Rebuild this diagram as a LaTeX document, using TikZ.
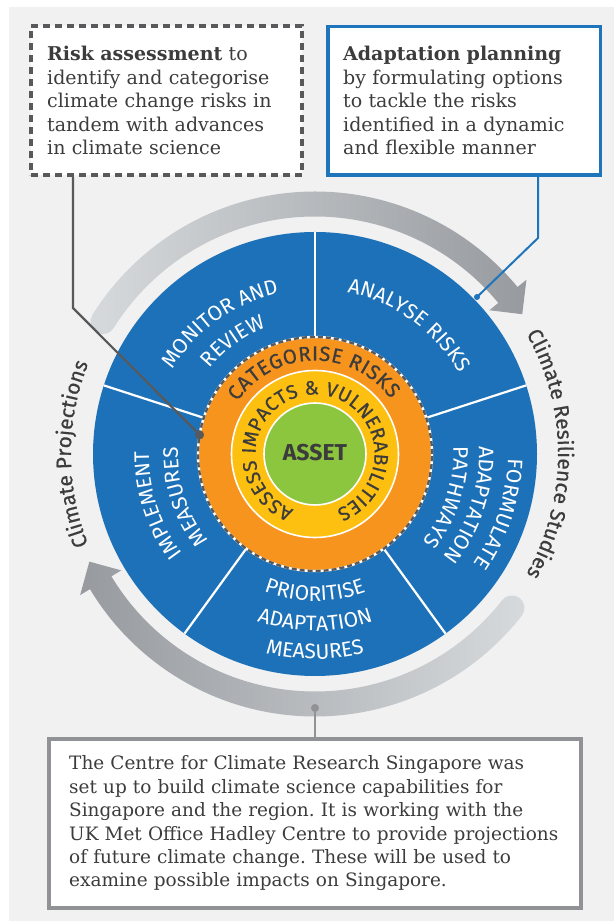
\documentclass[tikz,border=0pt]{standalone}
\usepackage{fontspec}
\setmainfont{DejaVu Serif}
\newfontfamily\segfam{Fira Sans}
\newfontfamily\medfam{Fira Sans}[FakeBold=0.6]
\usetikzlibrary{decorations.text}
\definecolor{bgc}{HTML}{F1F1F1}
\definecolor{cblue}{HTML}{1D71B8}
\definecolor{bboxblue}{HTML}{1F75BC}
\definecolor{corange}{HTML}{F7941D}
\definecolor{cyellow}{HTML}{FDC010}
\definecolor{cgreen}{HTML}{8CC63F}
\definecolor{cdark}{HTML}{3C3C3C}
\definecolor{cline}{HTML}{58595B}
\definecolor{cboxg}{HTML}{909296}
\definecolor{arrl}{HTML}{D6DADD}
\definecolor{arrd}{HTML}{979B9F}
% clockwise arc text (tops outward): radius, centre angle, colour, format, text
\newcommand\cwtext[5]{\path[decorate,decoration={text along path,text align=center,text color=#3,text={|#4|#5}}] (#2+80:#1) arc[start angle=#2+80,end angle=#2-80,radius=#1];}
% counter-clockwise arc text (tops inward)
\newcommand\ccwtext[5]{\path[decorate,decoration={text along path,text align=center,text color=#3,text={|#4|#5}}] (#2-80:#1) arc[start angle=#2-80,end angle=#2+80,radius=#1];}
\newcommand\segf{\segfam\fontsize{21}{21}\selectfont}
\newcommand\ringf{\medfam\fontsize{19.5}{19.5}\selectfont}
\newcommand\ringbigf{\medfam\fontsize{20.5}{20.5}\selectfont}
\newcommand\outf{\medfam\fontsize{21}{21}\selectfont}
\frenchspacing
\begin{document}
\begin{tikzpicture}[x=1pt,y=1pt,
  boxtxt/.style={anchor=base west,inner sep=0pt,align=left,text width=520pt,
    font=\fontsize{19}{23.4}\selectfont,text=cdark},
  boxframe/.style={rectangle,inner sep=0pt,fill=white},
  divider/.style={white,line width=2.2pt},
  dotmark/.style={circle,inner sep=0pt}]
\useasboundingbox (0,0) rectangle (614,921);
\fill[white] (0,0) rectangle (614,921);
\fill[bgc] (9,0) rectangle (614,914);

\begin{scope}[shift={(315,467)}]
  % grey arrows
  \shade[left color=arrl,right color=arrd]
    (148:262.5) arc[start angle=148,end angle=39.5,radius=262.5]
    -- (39.5:237.5) arc[start angle=39.5,end angle=148,radius=237.5]
    arc[start angle=328,end angle=148,radius=12.5] -- cycle
    (39.5:226) -- (34:250) -- (39.5:274) -- cycle;
  \shade[left color=arrd,right color=arrl]
    (-38:262.5) arc[start angle=-38,end angle=-149,radius=262.5]
    -- (-149:237.5) arc[start angle=-149,end angle=-38,radius=237.5]
    arc[start angle=142,end angle=-38,radius=12.5] -- cycle
    (-149:226) -- (-154.5:250) -- (-149:274) -- cycle;
  % blue disc
  \fill[cblue] (0,0) circle[radius=222];
  \foreach \a in {90,18,-54,-126,162} \draw[divider] (\a:116) -- (\a:222);
  % orange ring
  \fill[corange] (0,0) circle[radius=117];
  \draw[white,line width=2.4pt] (0,0) circle[radius=117];
  \draw[cline,line width=2.4pt,dash pattern=on 5pt off 3pt] (0,0) circle[radius=117];
  % yellow ring
  \fill[cyellow] (0,0) circle[radius=83.5];
  \draw[white,line width=1.6pt] (0,0) circle[radius=83.5];
  % green core
  \fill[cgreen] (0,0) circle[radius=51];
  \draw[white,line width=1.6pt] (0,0) circle[radius=51];
  \node[font=\segfam\bfseries\fontsize{23}{23}\selectfont,text=cdark] (asset) at (0,1) {ASSET};
  % ring texts
  \path[decorate,decoration={text along path,text align={fit to path},text color=cdark,
      text={|\ringbigf|CATEGORISE RISKS}}]
    (146:93.5) arc[start angle=146,end angle=36,radius=93.5];
  \path[decorate,decoration={text along path,text align={fit to path},text color=cdark,
      text={|\ringf|ASSESS IMPACTS {\&} VULNERABILITIES}}]
    (249:59.5) arc[start angle=249,end angle=-69,radius=59.5];
  % segment texts
  \cwtext{165}{54}{white}{\segf}{ANALYSE RISKS}
  \cwtext{165}{126}{white}{\segf}{MONITOR AND}
  \cwtext{135.5}{126}{white}{\segf}{REVIEW}
  \cwtext{193}{-18}{white}{\segf}{FORMULATE}
  \cwtext{164}{-18}{white}{\segf}{ADAPTATION}
  \cwtext{138.5}{-18}{white}{\segf}{PATHWAYS}
  \cwtext{166}{198}{white}{\segf}{IMPLEMENT}
  \cwtext{137}{198}{white}{\segf}{MEASURES}
  \ccwtext{147}{-90}{white}{\segf}{PRIORITISE}
  \ccwtext{177}{-90}{white}{\segf}{ADAPTATION}
  \ccwtext{205}{-90}{white}{\segf}{MEASURES}
  % outer labels
  \cwtext{244}{180}{cdark}{\outf}{Climate Projections}
  \cwtext{243}{0}{cdark}{\outf}{Climate Resilience Studies}
  % connector end points
  \coordinate (dotL) at (170.6:117);
  \coordinate (dotR) at (44.1:225.6);
  \coordinate (dotB) at (-90:254);
\end{scope}

% boxes
\node[boxframe,draw=cline,line width=4pt,dash pattern=on 7pt off 5pt,
  minimum width=271pt,minimum height=149pt] (riskbox) at (166.5,820.5) {};
\node[boxframe,draw=bboxblue,line width=3.5pt,
  minimum width=272.5pt,minimum height=148.5pt] (planbox) at (464,820) {};
\node[boxframe,draw=cboxg,line width=4pt,
  minimum width=532.3pt,minimum height=169.3pt] (ccrsbox) at (314.85,97.65) {};

% connectors
\coordinate (bendL) at (73,613);
\coordinate (bendR) at (538,683);
\draw[cline,line width=2.2pt] (riskbox.south -| bendL) -- (bendL) -- (dotL);
\draw[bboxblue,line width=2pt] (planbox.south -| bendR) -- (bendR) -- (dotR);
\draw[cboxg,line width=2.5pt] (ccrsbox.north -| dotB) -- (dotB);
\fill[cline] (dotL) circle[radius=4.5];
\fill[bboxblue] (dotR) circle[radius=3];
\fill[cboxg] (dotB) circle[radius=4];
% redraw box frames over connector ends
\node[boxframe,draw=cline,line width=4pt,dash pattern=on 7pt off 5pt,
  minimum width=271pt,minimum height=149pt] at (riskbox.center) {};
\node[boxframe,draw=bboxblue,line width=3.5pt,
  minimum width=272.5pt,minimum height=148.5pt] at (planbox.center) {};
\node[boxframe,draw=cboxg,line width=4pt,
  minimum width=532.3pt,minimum height=169.3pt] at (ccrsbox.center) {};

% box texts
\node[boxtxt] (risktxt) at (47,860) {\textbf{Risk assessment} to\\identify and categorise\\climate change risks in\\tandem with advances\\in climate science};
\node[boxtxt] (plantxt) at (343,860) {\textbf{Adaptation planning}\\by formulating options\\to tackle the risks\\identified in a dynamic\\and flexible manner};
\node[boxtxt,font=\fontsize{18.45}{23.4}\selectfont] (ccrstxt) at (69,151) {The Centre for Climate Research Singapore was\\set up to build climate science capabilities for\\Singapore and the region. It is working with the\\UK Met Office Hadley Centre to provide projections\\of future climate change. These will be used to\\examine possible impacts on Singapore.};
\end{tikzpicture}
\end{document}
